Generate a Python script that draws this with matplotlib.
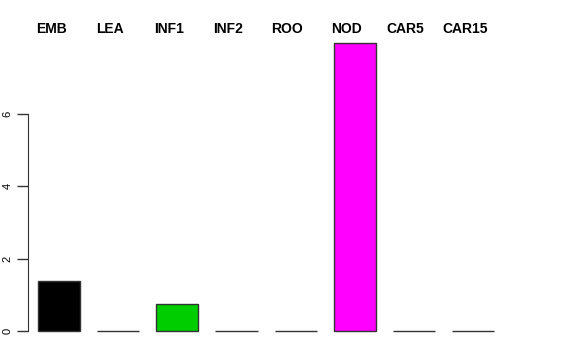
import matplotlib
matplotlib.use('Agg')
import matplotlib.pyplot as plt
import numpy as np

categories = ['EMB', 'LEA', 'INF1', 'INF2', 'ROO', 'NOD', 'CAR5', 'CAR15']
values = [1.38, 0.0, 0.75, 0.0, 0.0, 7.96, 0.0, 0.0]
colors = ['#000000', '#FF0000', '#00CD00', '#0000FF', '#00FFFF', '#FF00FF', '#FFFF00', '#BEBEBE']
yticks = [0, 2, 4, 6]


def main():
    plt.rcParams['font.family'] = ['Liberation Sans', 'DejaVu Sans']
    fig = plt.figure(figsize=(5.76, 3.6), dpi=100)
    # place axes in pixel terms like the R plot region
    ax = fig.add_axes([28 / 576, 0.0504, (511 - 28) / 576, 0.862])

    # R barplot layout: width 1, space 0.4
    centers = 0.4 + 0.5 + 1.4 * np.arange(len(values))
    ax.bar(centers, values, width=1.0, color=colors, edgecolor='#333333',
           linewidth=1.0)

    ax.set_xlim(0.163, 11.6)
    ax.set_ylim(-0.3, 8.28)

    for s in ['top', 'right', 'bottom']:
        ax.spines[s].set_visible(False)
    ax.spines['left'].set_bounds(0, 6)
    ax.spines['left'].set_color('#333333')
    ax.set_xticks([])
    ax.set_yticks(yticks)
    ax.set_yticklabels([str(t) for t in yticks], rotation=90, va='center',
                       fontsize=8)
    ax.tick_params(axis='y', length=8, width=1, color='#333333', pad=3)

    for c, lab in zip(centers, categories):
        fig.text((28 + (c - 0.163) * 42.2 - 8) / 576, 1 - 29 / 360, lab,
                 ha='center', va='center', fontsize=10, fontweight='bold')

    fig.savefig('out.png', dpi=100)


if __name__ == '__main__':
    main()
